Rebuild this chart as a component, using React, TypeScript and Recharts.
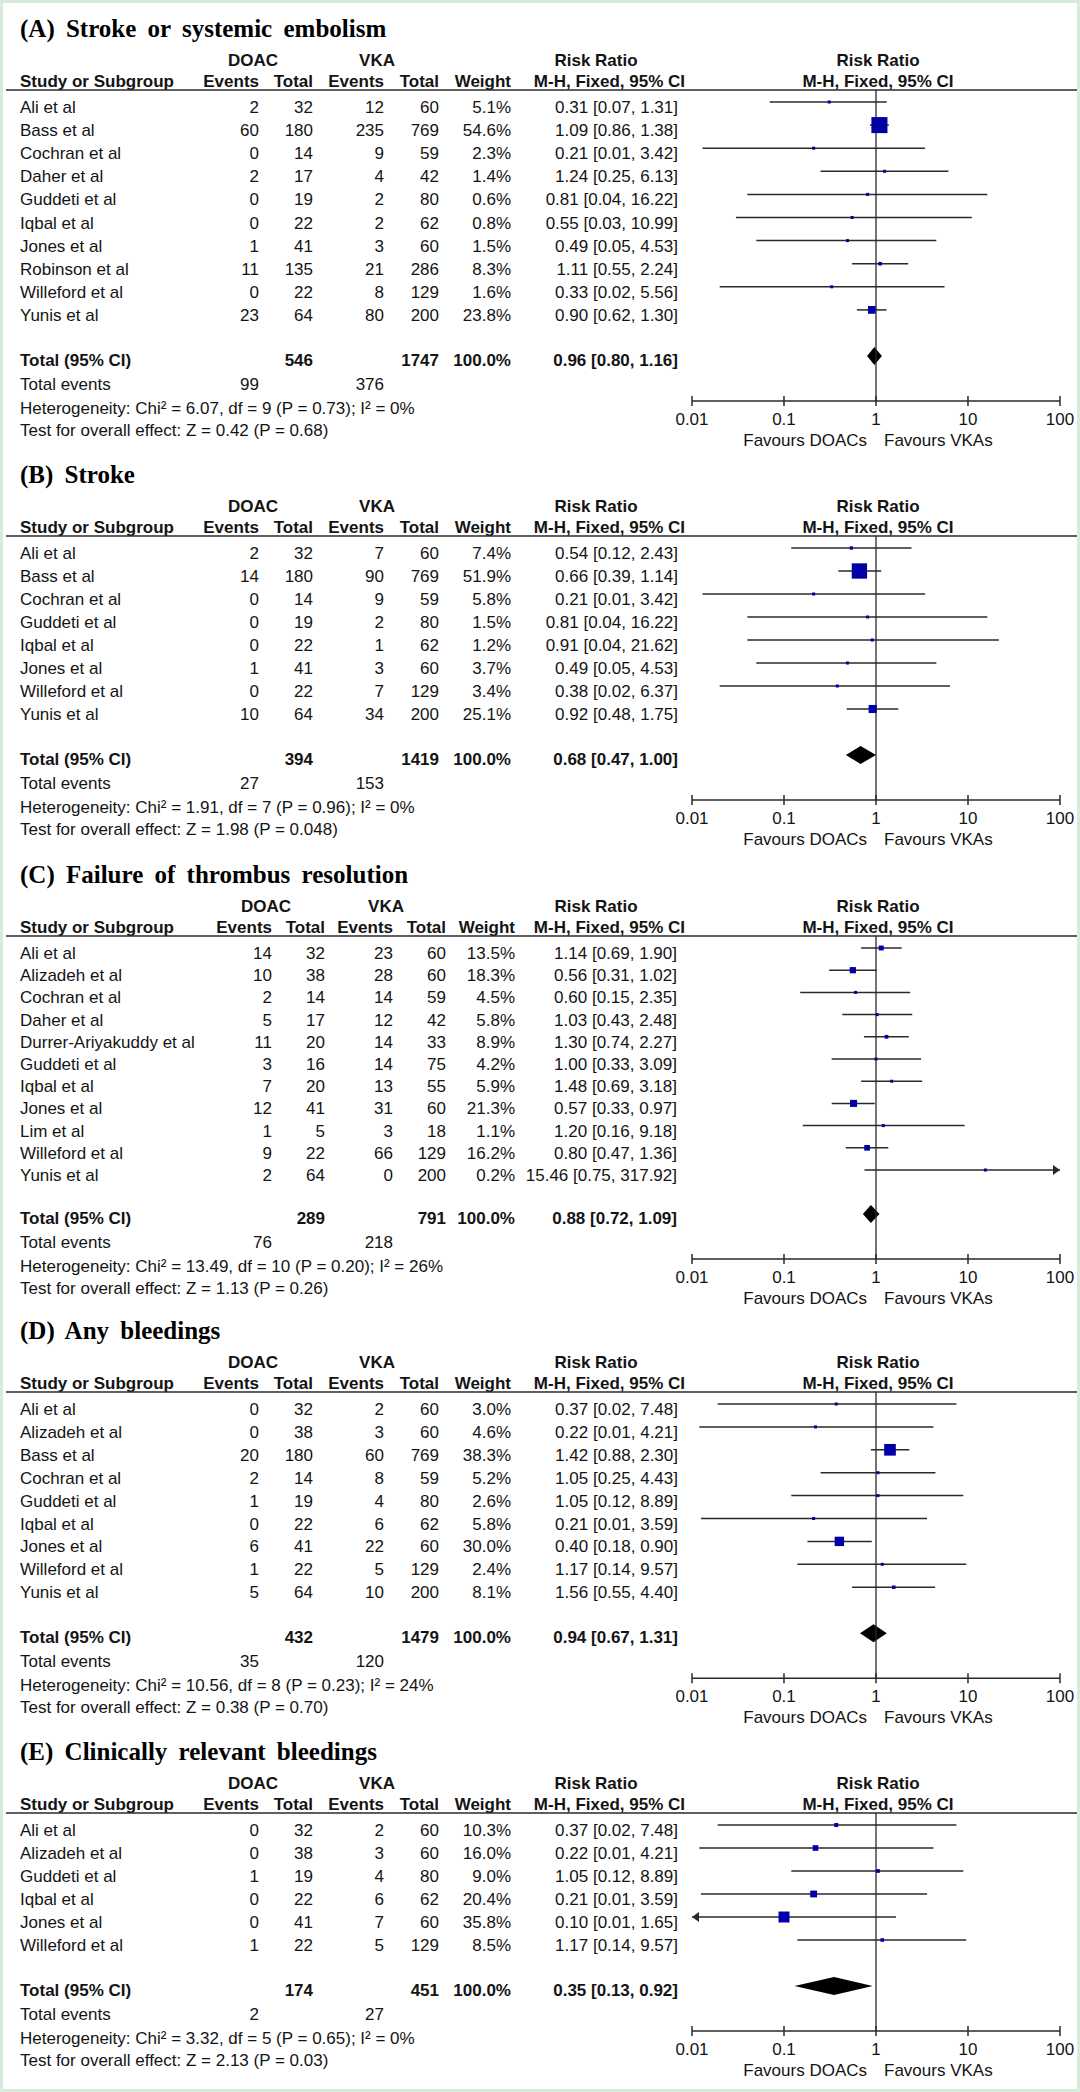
import React from "react";
import { ComposedChart, XAxis, YAxis, Scatter, ReferenceLine, ReferenceArea } from "recharts";

// ---------- (A) Stroke or systemic embolism ----------
const titleA = "(A) Stroke or systemic embolism";
const studiesA = ["Ali et al", "Bass et al", "Cochran et al", "Daher et al", "Guddeti et al", "Iqbal et al", "Jones et al", "Robinson et al", "Willeford et al", "Yunis et al"];
const doacEventsA = [2, 60, 0, 2, 0, 0, 1, 11, 0, 23];
const doacTotalA = [32, 180, 14, 17, 19, 22, 41, 135, 22, 64];
const vkaEventsA = [12, 235, 9, 4, 2, 2, 3, 21, 8, 80];
const vkaTotalA = [60, 769, 59, 42, 80, 62, 60, 286, 129, 200];
const weightA = [5.1, 54.6, 2.3, 1.4, 0.6, 0.8, 1.5, 8.3, 1.6, 23.8];
const rrA = [0.31, 1.09, 0.21, 1.24, 0.81, 0.55, 0.49, 1.11, 0.33, 0.9];
const lowerA = [0.07, 0.86, 0.013, 0.25, 0.04, 0.03, 0.05, 0.55, 0.02, 0.62];
const upperA = [1.31, 1.38, 3.42, 6.13, 16.22, 10.99, 4.53, 2.24, 5.56, 1.3];
const totalsA = [546, 1747];
const totalEventsA = [99, 376];
const pooledA = [0.96, 0.8, 1.16];
const hetA = "Heterogeneity: Chi\u00b2 = 6.07, df = 9 (P = 0.73); I\u00b2 = 0%";
const testA = "Test for overall effect: Z = 0.42 (P = 0.68)";

// ---------- (B) Stroke ----------
const titleB = "(B) Stroke";
const studiesB = ["Ali et al", "Bass et al", "Cochran et al", "Guddeti et al", "Iqbal et al", "Jones et al", "Willeford et al", "Yunis et al"];
const doacEventsB = [2, 14, 0, 0, 0, 1, 0, 10];
const doacTotalB = [32, 180, 14, 19, 22, 41, 22, 64];
const vkaEventsB = [7, 90, 9, 2, 1, 3, 7, 34];
const vkaTotalB = [60, 769, 59, 80, 62, 60, 129, 200];
const weightB = [7.4, 51.9, 5.8, 1.5, 1.2, 3.7, 3.4, 25.1];
const rrB = [0.54, 0.66, 0.21, 0.81, 0.91, 0.49, 0.38, 0.92];
const lowerB = [0.12, 0.39, 0.013, 0.04, 0.04, 0.05, 0.02, 0.48];
const upperB = [2.43, 1.14, 3.42, 16.22, 21.62, 4.53, 6.37, 1.75];
const totalsB = [394, 1419];
const totalEventsB = [27, 153];
const pooledB = [0.68, 0.47, 1.0];
const hetB = "Heterogeneity: Chi\u00b2 = 1.91, df = 7 (P = 0.96); I\u00b2 = 0%";
const testB = "Test for overall effect: Z = 1.98 (P = 0.048)";

// ---------- (C) Failure of thrombus resolution ----------
const titleC = "(C) Failure of thrombus resolution";
const studiesC = ["Ali et al", "Alizadeh et al", "Cochran et al", "Daher et al", "Durrer-Ariyakuddy et al", "Guddeti et al", "Iqbal et al", "Jones et al", "Lim et al", "Willeford et al", "Yunis et al"];
const doacEventsC = [14, 10, 2, 5, 11, 3, 7, 12, 1, 9, 2];
const doacTotalC = [32, 38, 14, 17, 20, 16, 20, 41, 5, 22, 64];
const vkaEventsC = [23, 28, 14, 12, 14, 14, 13, 31, 3, 66, 0];
const vkaTotalC = [60, 60, 59, 42, 33, 75, 55, 60, 18, 129, 200];
const weightC = [13.5, 18.3, 4.5, 5.8, 8.9, 4.2, 5.9, 21.3, 1.1, 16.2, 0.2];
const rrC = [1.14, 0.56, 0.6, 1.03, 1.3, 1.0, 1.48, 0.57, 1.2, 0.8, 15.46];
const lowerC = [0.69, 0.31, 0.15, 0.43, 0.74, 0.33, 0.69, 0.33, 0.16, 0.47, 0.75];
const upperC = [1.9, 1.02, 2.35, 2.48, 2.27, 3.09, 3.18, 0.97, 9.18, 1.36, 317.92];
const totalsC = [289, 791];
const totalEventsC = [76, 218];
const pooledC = [0.88, 0.72, 1.09];
const hetC = "Heterogeneity: Chi\u00b2 = 13.49, df = 10 (P = 0.20); I\u00b2 = 26%";
const testC = "Test for overall effect: Z = 1.13 (P = 0.26)";

// ---------- (D) Any bleedings ----------
const titleD = "(D) Any bleedings";
const studiesD = ["Ali et al", "Alizadeh et al", "Bass et al", "Cochran et al", "Guddeti et al", "Iqbal et al", "Jones et al", "Willeford et al", "Yunis et al"];
const doacEventsD = [0, 0, 20, 2, 1, 0, 6, 1, 5];
const doacTotalD = [32, 38, 180, 14, 19, 22, 41, 22, 64];
const vkaEventsD = [2, 3, 60, 8, 4, 6, 22, 5, 10];
const vkaTotalD = [60, 60, 769, 59, 80, 62, 60, 129, 200];
const weightD = [3.0, 4.6, 38.3, 5.2, 2.6, 5.8, 30.0, 2.4, 8.1];
const rrD = [0.37, 0.22, 1.42, 1.05, 1.05, 0.21, 0.4, 1.17, 1.56];
const lowerD = [0.019, 0.012, 0.88, 0.25, 0.12, 0.0125, 0.18, 0.14, 0.55];
const upperD = [7.48, 4.21, 2.3, 4.43, 8.89, 3.59, 0.9, 9.57, 4.4];
const totalsD = [432, 1479];
const totalEventsD = [35, 120];
const pooledD = [0.94, 0.67, 1.31];
const hetD = "Heterogeneity: Chi\u00b2 = 10.56, df = 8 (P = 0.23); I\u00b2 = 24%";
const testD = "Test for overall effect: Z = 0.38 (P = 0.70)";

// ---------- (E) Clinically relevant bleedings ----------
const titleE = "(E) Clinically relevant bleedings";
const studiesE = ["Ali et al", "Alizadeh et al", "Guddeti et al", "Iqbal et al", "Jones et al", "Willeford et al"];
const doacEventsE = [0, 0, 1, 0, 0, 1];
const doacTotalE = [32, 38, 19, 22, 41, 22];
const vkaEventsE = [2, 3, 4, 6, 7, 5];
const vkaTotalE = [60, 60, 80, 62, 60, 129];
const weightE = [10.3, 16.0, 9.0, 20.4, 35.8, 8.5];
const rrE = [0.37, 0.22, 1.05, 0.21, 0.1, 1.17];
const lowerE = [0.019, 0.012, 0.12, 0.0125, 0.006, 0.14];
const upperE = [7.48, 4.21, 8.89, 3.59, 1.65, 9.57];
const totalsE = [174, 451];
const totalEventsE = [2, 27];
const pooledE = [0.35, 0.13, 0.92];
const hetE = "Heterogeneity: Chi\u00b2 = 3.32, df = 5 (P = 0.65); I\u00b2 = 0%";
const testE = "Test for overall effect: Z = 2.13 (P = 0.03)";

// ---------- shared labels ----------
const axisTicks = [0.01, 0.1, 1, 10, 100];
const groupLabels = ["DOAC", "VKA"];
const columnLabels = ["Study or Subgroup", "Events", "Total", "Events", "Total", "Weight"];
const rrHeader = ["Risk Ratio", "M-H, Fixed, 95% CI"];
const favourLabels = ["Favours DOACs", "Favours VKAs"];
const totalLabels = ["Total (95% CI)", "Total events", "100.0%"];

const panels = [
  { title: titleA, studies: studiesA, de: doacEventsA, dt: doacTotalA, ve: vkaEventsA, vt: vkaTotalA, w: weightA, rr: rrA, lo: lowerA, hi: upperA, totals: totalsA, tev: totalEventsA, pooled: pooledA, het: hetA, test: testA },
  { title: titleB, studies: studiesB, de: doacEventsB, dt: doacTotalB, ve: vkaEventsB, vt: vkaTotalB, w: weightB, rr: rrB, lo: lowerB, hi: upperB, totals: totalsB, tev: totalEventsB, pooled: pooledB, het: hetB, test: testB },
  { title: titleC, studies: studiesC, de: doacEventsC, dt: doacTotalC, ve: vkaEventsC, vt: vkaTotalC, w: weightC, rr: rrC, lo: lowerC, hi: upperC, totals: totalsC, tev: totalEventsC, pooled: pooledC, het: hetC, test: testC },
  { title: titleD, studies: studiesD, de: doacEventsD, dt: doacTotalD, ve: vkaEventsD, vt: vkaTotalD, w: weightD, rr: rrD, lo: lowerD, hi: upperD, totals: totalsD, tev: totalEventsD, pooled: pooledD, het: hetD, test: testD },
  { title: titleE, studies: studiesE, de: doacEventsE, dt: doacTotalE, ve: vkaEventsE, vt: vkaTotalE, w: weightE, rr: rrE, lo: lowerE, hi: upperE, totals: totalsE, tev: totalEventsE, pooled: pooledE, het: hetE, test: testE },
];

// ---------- layout (positions only) ----------
const layouts = [
  { tb: 37, sp: 23.1, gap: 45, wide: false },
  { tb: 483, sp: 23, gap: 45, wide: false },
  { tb: 883, sp: 22.2, gap: 43, wide: true },
  { tb: 1339, sp: 22.9, gap: 45, wide: false },
  { tb: 1760, sp: 23, gap: 45, wide: false },
];
const COLS_STD = { ev1: 259, tot1: 313, ev2: 384, tot2: 439, w: 511, ci: 678, doac: 253, vka: 377 };
const COLS_WIDE = { ev1: 272, tot1: 325, ev2: 393, tot2: 446, w: 515, ci: 677, doac: 266, vka: 386 };
const PLOT_L = 692;
const PLOT_R = 1060;
const AX_H = 56;
const SANS = "'Liberation Sans', Arial, Helvetica, sans-serif";
const SERIF = "'Liberation Serif', 'Times New Roman', serif";
const TXT = "#141414";
const LINE = "#2a2a2a";
const SQUARE = "#0000a6";

const fmt = (v: number) => v.toFixed(2);
const ciText = (r: number, l: number, h: number) => `${fmt(r)} [${fmt(l)}, ${fmt(h)}]`;

function geom(p: any, L: any) {
  const n = p.studies.length;
  const lineY = L.tb + 53;
  const firstBase = L.tb + 76;
  const totalBase = firstBase + (n - 1) * L.sp + L.gap;
  const axisY = totalBase + 35;
  const plotH = axisY - lineY;
  const yMin = 1 - (firstBase - 11 - lineY) / L.sp;
  const yMax = yMin + plotH / L.sp;
  const totalRow = n + (L.gap + 1) / L.sp;
  return { n, lineY, firstBase, totalBase, axisY, plotH, yMin, yMax, totalRow };
}

const AxisTick = (props: any) => {
  const { x, y, payload } = props;
  return (
    <g>
      <line x1={x} x2={x} y1={y - 5} y2={y + 5} stroke={LINE} strokeWidth={1.5} />
      <text x={x} y={y + 24} textAnchor="middle" fontFamily={SANS} fontSize={17} fill={TXT}>
        {String(payload.value)}
      </text>
    </g>
  );
};

const Square = (props: any) => {
  const { cx, cy, payload } = props;
  if (cx == null || cy == null) return null;
  const s = Math.max(3, 1.3 + 0.27 * payload.w);
  return <rect x={cx - s / 2} y={cy - s / 2} width={s} height={s} fill={SQUARE} />;
};

const makeCiShape = (arrowL: boolean, arrowR: boolean) => (props: any) => {
  const { x1, y1, x2, y2 } = props;
  return (
    <g>
      <line x1={x1} y1={y1} x2={x2} y2={y2} stroke={LINE} strokeWidth={1.5} />
      {arrowR && <polygon points={`${x2},${y2} ${x2 - 7},${y2 - 5} ${x2 - 7},${y2 + 5}`} fill={LINE} />}
      {arrowL && <polygon points={`${x1},${y1} ${x1 + 7},${y1 - 5} ${x1 + 7},${y1 + 5}`} fill={LINE} />}
    </g>
  );
};

const makeDiamond = (est: number, lo: number, hi: number) => (props: any) => {
  const { x, y, width, height } = props;
  if (x == null) return null;
  const ax = x + (width * Math.log(est / lo)) / Math.log(hi / lo);
  const cy = y + height / 2;
  return <polygon points={`${x},${cy} ${ax},${y} ${x + width},${cy} ${ax},${y + height}`} fill="#000" />;
};

function ForestChart({ p, L }: any) {
  const g = geom(p, L);
  const pts = p.studies.map((s: string, i: number) => ({ x: p.rr[i], y: i + 1, w: p.w[i], name: s }));
  const clampX = (v: number) => Math.min(100, Math.max(0.01, v));
  const halfD = 9 / L.sp;
  return (
    <div style={{ position: "absolute", left: 0, top: g.lineY }}>
      <ComposedChart width={1080} height={g.plotH + AX_H} margin={{ top: 0, right: 1080 - PLOT_R, bottom: 0, left: PLOT_L }}>
        <XAxis
          type="number"
          dataKey="x"
          scale="log"
          domain={[0.01, 100]}
          ticks={axisTicks}
          allowDataOverflow
          interval={0}
          height={AX_H}
          tickSize={0}
          tickMargin={0}
          tickLine={false}
          axisLine={{ stroke: LINE, strokeWidth: 1.5 }}
          tick={<AxisTick />}
        />
        <YAxis type="number" dataKey="y" domain={[g.yMin, g.yMax]} reversed hide width={0} allowDataOverflow />
        <ReferenceLine x={1} stroke={LINE} strokeWidth={1.3} />
        {p.studies.map((s: string, i: number) => (
          <ReferenceLine
            key={s}
            ifOverflow="visible"
            segment={[
              { x: clampX(p.lo[i]), y: i + 1 },
              { x: clampX(p.hi[i]), y: i + 1 },
            ]}
            shape={makeCiShape(p.lo[i] < 0.01, p.hi[i] > 100)}
          />
        ))}
        <Scatter data={pts} isAnimationActive={false} shape={<Square />} />
        <ReferenceArea
          ifOverflow="visible"
          x1={p.pooled[1]}
          x2={p.pooled[2]}
          y1={g.totalRow - halfD}
          y2={g.totalRow + halfD}
          shape={makeDiamond(p.pooled[0], p.pooled[1], p.pooled[2])}
        />
      </ComposedChart>
    </div>
  );
}

function PanelText({ p, L }: any) {
  const g = geom(p, L);
  const c = L.wide ? COLS_WIDE : COLS_STD;
  const tb = L.tb;
  const rc = (PLOT_L + PLOT_R) / 2 + 2;
  return (
    <g>
      <text x={20} y={tb} fontFamily={SERIF} fontWeight="bold" fontSize={25} style={{ wordSpacing: "5px" }} fill="#000">
        {p.title}
      </text>
      <g fontWeight="bold">
        <text x={c.doac} y={tb + 29} textAnchor="middle">{groupLabels[0]}</text>
        <text x={c.vka} y={tb + 29} textAnchor="middle">{groupLabels[1]}</text>
        <text x={596} y={tb + 29} textAnchor="middle">{rrHeader[0]}</text>
        <text x={rc} y={tb + 29} textAnchor="middle">{rrHeader[0]}</text>
        <text x={20} y={tb + 50}>{columnLabels[0]}</text>
        <text x={c.ev1} y={tb + 50} textAnchor="end">{columnLabels[1]}</text>
        <text x={c.tot1} y={tb + 50} textAnchor="end">{columnLabels[2]}</text>
        <text x={c.ev2} y={tb + 50} textAnchor="end">{columnLabels[3]}</text>
        <text x={c.tot2} y={tb + 50} textAnchor="end">{columnLabels[4]}</text>
        <text x={c.w} y={tb + 50} textAnchor="end">{columnLabels[5]}</text>
        <text x={685} y={tb + 50} textAnchor="end">{rrHeader[1]}</text>
        <text x={rc} y={tb + 50} textAnchor="middle">{rrHeader[1]}</text>
      </g>
      <line x1={6} x2={1077} y1={g.lineY} y2={g.lineY} stroke={LINE} strokeWidth={1.5} />
      {p.studies.map((s: string, i: number) => {
        const y = g.firstBase + i * L.sp;
        return (
          <g key={s}>
            <text x={20} y={y}>{s}</text>
            <text x={c.ev1} y={y} textAnchor="end">{p.de[i]}</text>
            <text x={c.tot1} y={y} textAnchor="end">{p.dt[i]}</text>
            <text x={c.ev2} y={y} textAnchor="end">{p.ve[i]}</text>
            <text x={c.tot2} y={y} textAnchor="end">{p.vt[i]}</text>
            <text x={c.w} y={y} textAnchor="end">{p.w[i].toFixed(1) + "%"}</text>
            <text x={c.ci} y={y} textAnchor="end">{ciText(p.rr[i], p.lo[i], p.hi[i])}</text>
          </g>
        );
      })}
      <g fontWeight="bold">
        <text x={20} y={g.totalBase}>{totalLabels[0]}</text>
        <text x={c.tot1} y={g.totalBase} textAnchor="end">{p.totals[0]}</text>
        <text x={c.tot2} y={g.totalBase} textAnchor="end">{p.totals[1]}</text>
        <text x={c.w} y={g.totalBase} textAnchor="end">{totalLabels[2]}</text>
        <text x={c.ci} y={g.totalBase} textAnchor="end">{ciText(p.pooled[0], p.pooled[1], p.pooled[2])}</text>
      </g>
      <text x={20} y={g.totalBase + 24}>{totalLabels[1]}</text>
      <text x={c.ev1} y={g.totalBase + 24} textAnchor="end">{p.tev[0]}</text>
      <text x={c.ev2} y={g.totalBase + 24} textAnchor="end">{p.tev[1]}</text>
      <text x={20} y={g.totalBase + 48}>{p.het}</text>
      <text x={20} y={g.totalBase + 70}>{p.test}</text>
      <text x={867} y={g.axisY + 45} textAnchor="end">{favourLabels[0]}</text>
      <text x={884} y={g.axisY + 45}>{favourLabels[1]}</text>
    </g>
  );
}

export default function App() {
  return (
    <div style={{ position: "absolute", left: 0, top: 0, width: 1080, height: 2092, background: "#fff", overflow: "hidden" }}>
      {panels.map((p, i) => (
        <ForestChart key={p.title} p={p} L={layouts[i]} />
      ))}
      <svg
        width={1080}
        height={2092}
        style={{ position: "absolute", left: 0, top: 0, pointerEvents: "none" }}
        fontFamily={SANS}
        fontSize={17}
        fill={TXT}
      >
        {panels.map((p, i) => (
          <PanelText key={p.title} p={p} L={layouts[i]} />
        ))}
      </svg>
      <div
        style={{
          position: "absolute",
          left: 0,
          top: 0,
          width: 1080,
          height: 2092,
          boxSizing: "border-box",
          border: "3px solid #d6ebd9",
          pointerEvents: "none",
        }}
      />
    </div>
  );
}
